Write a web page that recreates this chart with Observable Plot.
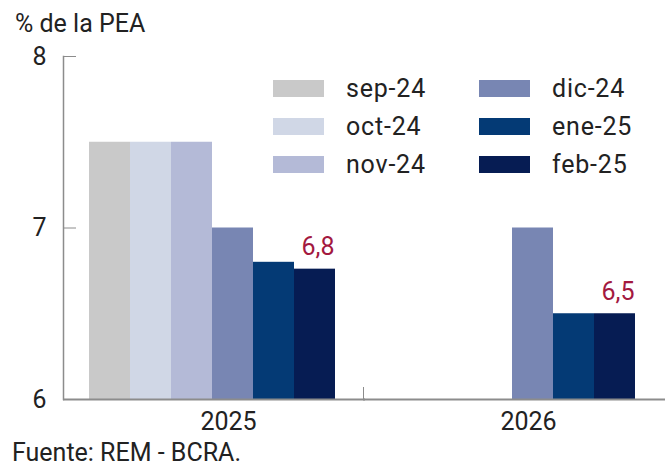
<!DOCTYPE html>
<html>
<head>
<meta charset="utf-8">
<script src="https://cdn.jsdelivr.net/npm/d3@7"></script>
<script src="https://cdn.jsdelivr.net/npm/@observablehq/plot@0.6"></script>
<style>
  html, body { margin: 0; padding: 0; background: #fff; }
  body { font-family: Roboto, sans-serif; color: #222; }
  #wrap { position: relative; width: 665px; height: 466px; overflow: hidden; }
  #title { position: absolute; left: 15px; top: 11px; font-size: 25px; line-height: 25px; white-space: nowrap; }
  #chart { position: absolute; left: 0; top: 40px; }
  #legend { position: absolute; left: 273px; top: 80px; display: grid; grid-auto-flow: column;
            grid-template-rows: repeat(3, 17px); grid-template-columns: 206px 150px; row-gap: 21px; }
  .item { display: flex; align-items: center; height: 17px; }
  .sw { width: 51px; height: 17px; flex: none; }
  .lab { margin-left: 22px; font-size: 25px; line-height: 17px; letter-spacing: 0.8px; white-space: nowrap; }
  #caption { position: absolute; left: 12px; top: 440px; font-size: 25px; line-height: 25px; white-space: nowrap; }
</style>
</head>
<body>
<div id="wrap">
  <div id="title">% de la PEA</div>
  <div id="chart"></div>
  <div id="legend"></div>
  <div id="caption">Fuente: REM - BCRA.</div>
</div>
<script>
// ---- data ----
const years = ["2025", "2026"];
const series = ["sep-24", "oct-24", "nov-24", "dic-24", "ene-25", "feb-25"];
const colors = ["#c9c9c9", "#d0d7e6", "#b4bad7", "#7886b3", "#043a75", "#061c53"];
const values2025 = [7.5, 7.5, 7.5, 7.0, 6.8, 6.76];
const values2026 = [null, null, null, 7.0, 6.5, 6.5];
const yTicks = [6, 7, 8];
const yTickLabels = ["6", "7", "8"];
const labelSeries = "feb-25";

const valuesByYear = {"2025": values2025, "2026": values2026};
const rows = [];
for (const yr of years) {
  series.forEach((s, i) => {
    const v = valuesByYear[yr][i];
    if (v != null) rows.push({year: yr, series: s, value: v});
  });
}
const yMin = yTicks[0];
const fmt = v => d3.format(".1f")(v).replace(".", ",");
const axisGray = "#8c8c8c";

const chart = Plot.plot({
  width: 665,
  height: 400,
  marginTop: 16,
  marginBottom: 41,
  marginLeft: 63,
  marginRight: 2,
  style: {fontFamily: "Roboto, sans-serif", fontSize: "25px", color: "#222", background: "transparent"},
  fx: {domain: years, paddingInner: 0, paddingOuter: 0, label: null, axis: null},
  x: {domain: series, paddingInner: 0, paddingOuter: 0.65, align: 0.48, axis: null},
  y: {domain: [yTicks[0], yTicks[yTicks.length - 1]], axis: null, label: null},
  color: {domain: series, range: colors},
  marks: [
    Plot.barY(rows, {fx: "year", x: "series", y1: yMin, y2: "value", fill: "series"}),
    Plot.ruleY([yMin], {stroke: axisGray, strokeWidth: 2, insetRight: -2}),
    Plot.frame({anchor: "left", facetAnchor: "left", stroke: axisGray, strokeWidth: 1.5}),
    Plot.frame({anchor: "left", stroke: axisGray, strokeWidth: 1, insetTop: 331}),
    Plot.axisY({anchor: "left", ticks: yTicks, tickSize: 0, tickPadding: 17, fontSize: 25, label: null,
                tickFormat: v => yTickLabels[yTicks.indexOf(v)]}),
    Plot.axisY({anchor: "right", frameAnchor: "left", facetAnchor: "left", ticks: yTicks.slice(1),
                tickSize: 12, tickFormat: () => "", stroke: axisGray, label: null}),
    Plot.axisFx({anchor: "bottom", tickSize: 0, tickPadding: 13, dx: 15, fontSize: 25, label: null}),
    Plot.text(rows.filter(d => d.series === labelSeries), {
      fx: "year", x: "series", y: "value", text: d => fmt(d.value),
      dy: -22, dx: 3, fill: "#a3193f", fontSize: 25
    })
  ]
});
document.getElementById("chart").appendChild(chart);

// legend (column-major, 2 columns x 3 rows)
const legend = document.getElementById("legend");
series.forEach((s, i) => {
  const item = document.createElement("div");
  item.className = "item";
  const sw = document.createElement("div");
  sw.className = "sw";
  sw.style.background = colors[i];
  const lab = document.createElement("span");
  lab.className = "lab";
  lab.textContent = s;
  item.appendChild(sw);
  item.appendChild(lab);
  legend.appendChild(item);
});
</script>
</body>
</html>
